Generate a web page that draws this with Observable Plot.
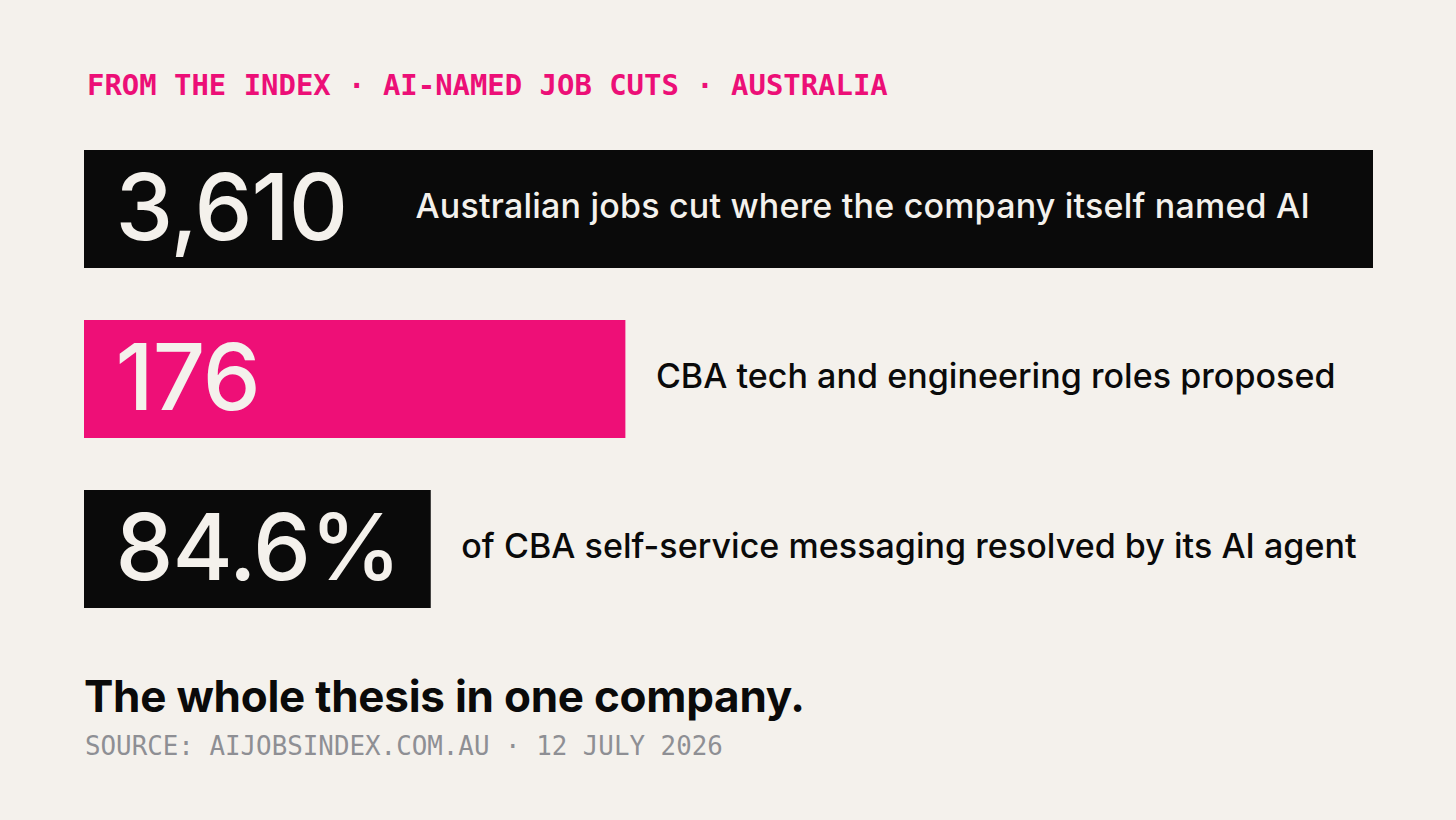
<!DOCTYPE html>
<html>
<head>
<meta charset="utf-8">
<script src="https://cdn.jsdelivr.net/npm/d3@7"></script>
<script src="https://cdn.jsdelivr.net/npm/@observablehq/plot@0.6"></script>
<style>
  html, body { margin: 0; padding: 0; background: #f4f1ec; }
  body { width: 1456px; height: 820px; overflow: hidden; position: relative; }
  .kicker { position: absolute; left: 87px; top: 68px; font-family: "DejaVu Sans Mono", monospace; font-size: 29px; font-weight: bold; color: #ec0f77; white-space: nowrap; transform: scaleX(0.997); transform-origin: left top; }
  #chart { position: absolute; left: 0; top: 130px; }
  .title { position: absolute; left: 84px; top: 669px; font-family: Inter, sans-serif; font-size: 44px; font-weight: 700; color: #0a0a0a; letter-spacing: -0.25px; white-space: nowrap; }
  .source { position: absolute; left: 85px; top: 730px; font-family: "DejaVu Sans Mono", monospace; font-size: 27px; color: #8e8f94; white-space: nowrap; transform: scaleX(0.957); transform-origin: left top; }
</style>
</head>
<body>
<div class="kicker">FROM THE INDEX · AI-NAMED JOB CUTS · AUSTRALIA</div>
<div id="chart"></div>
<div class="title">The whole thesis in one company.</div>
<div class="source">SOURCE: AIJOBSINDEX.COM.AU · 12 JULY 2026</div>
<script>
// Data
const keys = ["jobs", "cba", "resolved"];
const valueLabels = ["3,610", "176", "84.6%"];
const descriptions = [
  "Australian jobs cut where the company itself named AI",
  "CBA tech and engineering roles proposed",
  "of CBA self-service messaging resolved by its AI agent"
];
const barLength = [1, 0.42, 0.269];   // relative bar lengths as drawn
const barColor = ["#0a0a0a", "#ee0f77", "#0a0a0a"];
const labelInside = [true, false, false];

const rows = keys.map((k, i) => ({
  key: k, value: valueLabels[i], desc: descriptions[i],
  len: barLength[i], color: barColor[i], inside: labelInside[i]
}));

const cream = "#f4f1ec";
const sans = "Inter, sans-serif";

const chart = Plot.plot({
  width: 1456,
  height: 498,
  marginLeft: 84,
  marginRight: 83,
  marginTop: 20,
  marginBottom: 20,
  style: { background: "transparent", overflow: "visible" },
  x: { domain: [0, 1], axis: null },
  y: { domain: keys, axis: null, paddingInner: 0.306, paddingOuter: 0 },
  color: { type: "identity" },
  marks: [
    Plot.barX(rows, { x1: 0, x2: "len", y: "key", fill: "color" }),
    Plot.text(rows, {
      x: 0, y: "key", text: "value", textAnchor: "start", dx: 31, dy: 1,
      fill: cream, fontSize: 92, fontWeight: 500, fontFamily: sans,
      lineAnchor: "middle"
    }),
    Plot.text(rows.filter(d => d.inside), {
      x: 0, y: "key", text: "desc", textAnchor: "start", dx: 331, dy: -2,
      fill: cream, fontSize: 34, fontWeight: 500, fontFamily: sans, lineAnchor: "middle"
    }),
    Plot.text(rows.filter(d => !d.inside), {
      x: "len", y: "key", text: "desc", textAnchor: "start", dx: 30, dy: -2,
      fill: "#0a0a0a", fontSize: 34, fontWeight: 500, fontFamily: sans, lineAnchor: "middle"
    })
  ]
});
// fine letter-spacing tweaks per text layer (numbers, inside label, outside labels)
const textLayers = d3.select(chart).selectAll('g[aria-label="text"]').nodes();
const spacing = ["-1px", "0.2px", "0.05px"];
textLayers.forEach((g, i) => g.setAttribute("letter-spacing", spacing[i] || "0"));
document.getElementById("chart").appendChild(chart);
</script>
</body>
</html>
